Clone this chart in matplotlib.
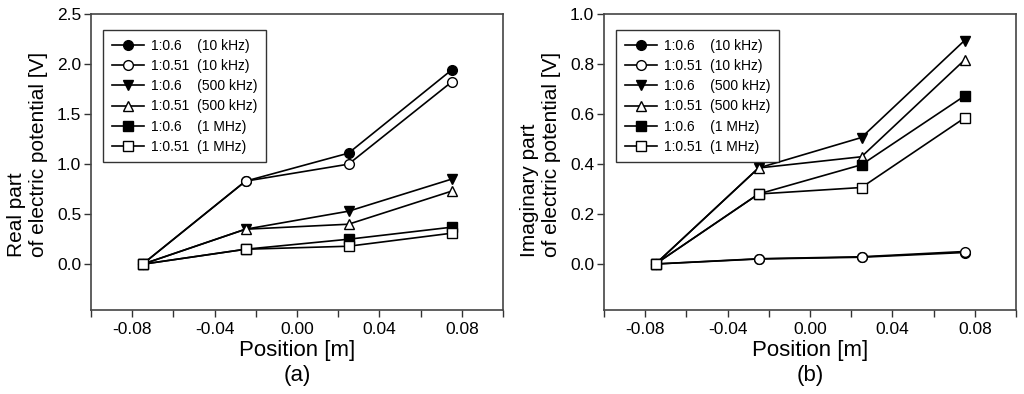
import matplotlib
matplotlib.use("Agg")
import matplotlib.pyplot as plt
from matplotlib.ticker import MultipleLocator, FormatStrFormatter

plt.rcParams['font.family'] = ['Liberation Sans', 'DejaVu Sans']

positions = [-0.075, -0.025, 0.025, 0.075]

labels = ["1:0.6\u2007  (10 kHz)", "1:0.51  (10 kHz)",
          "1:0.6\u2007  (500 kHz)", "1:0.51  (500 kHz)",
          "1:0.6\u2007  (1 MHz)", "1:0.51  (1 MHz)"]

# Real part [V]
real_06_10k = [0.0, 0.83, 1.11, 1.94]
real_051_10k = [0.0, 0.83, 1.00, 1.82]
real_06_500k = [0.0, 0.35, 0.53, 0.85]
real_051_500k = [0.0, 0.35, 0.40, 0.73]
real_06_1M = [0.0, 0.15, 0.25, 0.37]
real_051_1M = [0.0, 0.15, 0.18, 0.31]

# Imaginary part [V]
imag_06_10k = [0.0, 0.02, 0.027, 0.046]
imag_051_10k = [0.0, 0.021, 0.029, 0.05]
imag_06_500k = [0.0, 0.384, 0.506, 0.894]
imag_051_500k = [0.0, 0.384, 0.429, 0.816]
imag_06_1M = [0.0, 0.28, 0.397, 0.672]
imag_051_1M = [0.0, 0.28, 0.306, 0.584]

markers = ['o', 'o', 'v', '^', 's', 's']
fills = ['black', 'white', 'black', 'white', 'black', 'white']

fig = plt.figure(figsize=(10.24, 3.94), dpi=100)
ax1 = fig.add_axes([91/1024, 1-310/394, 412/1024, 296/394])
ax2 = fig.add_axes([604/1024, 1-310/394, 412/1024, 296/394])

real_series = [real_06_10k, real_051_10k, real_06_500k, real_051_500k, real_06_1M, real_051_1M]
imag_series = [imag_06_10k, imag_051_10k, imag_06_500k, imag_051_500k, imag_06_1M, imag_051_1M]

for ax, series, ylim, ystep, ylabel in [
        (ax1, real_series, (-0.457, 2.5), 0.5, "Real part\nof electric potential [V]"),
        (ax2, imag_series, (-0.184, 1.0), 0.2, "Imaginary part\nof electric potential [V]")]:
    for vals, m, fc, lab in zip(series, markers, fills, labels):
        ax.plot(positions, vals, color='black', lw=1.2, marker=m, ms=7,
                markerfacecolor=fc, markeredgecolor='black', markeredgewidth=1.0,
                label=lab)
    ax.set_xlim(-0.1, 0.1)
    ax.set_ylim(*ylim)
    ax.xaxis.set_major_locator(MultipleLocator(0.04))
    ax.xaxis.set_minor_locator(MultipleLocator(0.02))
    ax.xaxis.set_major_formatter(FormatStrFormatter('%.2f'))
    ax.yaxis.set_major_locator(MultipleLocator(ystep))
    ax.yaxis.set_major_formatter(FormatStrFormatter('%.1f'))
    ax.tick_params(axis='both', which='major', direction='out', length=5, width=1,
                   labelsize=12.5, color='#333333')
    ax.tick_params(axis='x', which='minor', direction='out', length=5, width=1, color='#333333')
    ax.tick_params(axis='y', which='major', pad=2)
    for sp in ax.spines.values():
        sp.set_color('#444444')
        sp.set_linewidth(1.2)
    ax.set_xlabel("Position [m]", fontsize=16, labelpad=2)
    ax.set_ylabel(ylabel, fontsize=15, multialignment='left')
    ax.yaxis.set_label_coords(-0.104, 0.524)
    leg = ax.legend(loc='upper left', bbox_to_anchor=(0.03, 0.945), fontsize=10,
                    frameon=True, fancybox=False, edgecolor='black',
                    handlelength=2.3, handletextpad=0.55, labelspacing=0.45,
                    borderpad=0.6, borderaxespad=0)
    leg.get_frame().set_linewidth(1.0)

fig.text((91+503)/2/1024, 1-376/394, "(a)", ha='center', va='center', fontsize=16)
fig.text((604+1016)/2/1024, 1-376/394, "(b)", ha='center', va='center', fontsize=16)

fig.savefig("out.png", dpi=100)
